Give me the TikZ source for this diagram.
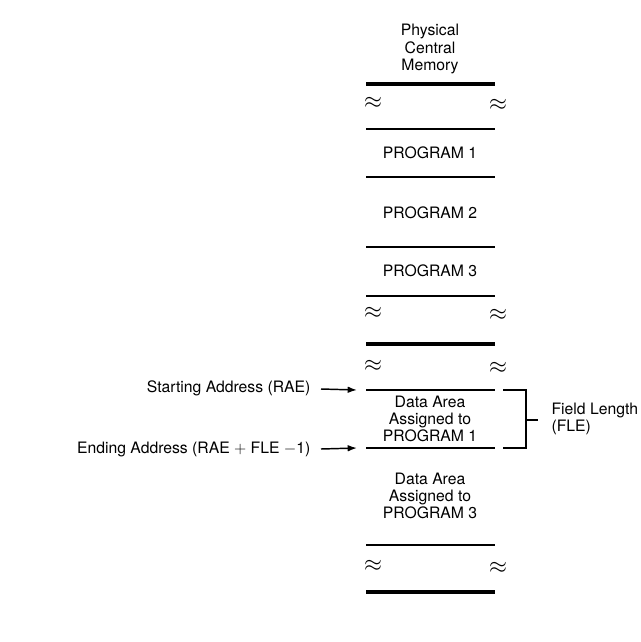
\documentclass[tikz,border=0pt]{standalone}
\usepackage{fontspec}
\setmainfont{TeX Gyre Heros}
\usepackage{tikz}
\usetikzlibrary{positioning, calc, arrows.meta}

\tikzset{
  label/.style={font=\fontsize{11.8}{12.6}\selectfont, inner sep=1pt},
  block/.style={font=\fontsize{11.8}{12.6}\selectfont, align=center, inner sep=1pt},
  brk/.style={font=\LARGE, inner sep=0pt},
  thin line/.style={line width=0.8pt},
  thick line/.style={line width=3pt},
  ptr/.style={line width=1.1pt, -{Latex[length=7pt, width=5pt]}}
}

\begin{document}
\begin{tikzpicture}[x=0.75pt, y=-0.75pt]

    % --- PAGE FRAME ---
    \useasboundingbox (0,0) rectangle (640,642);

    % --- TITLE ---
    \node[block, font=\fontsize{11.8}{12.8}\selectfont] (title) at (430,49) {Physical\\Central\\Memory};

    % --- MEMORY COLUMN: left=366, right=495 ---
    \draw[thick line] (366,84) -- (495,84);
    \node[brk] (b1l) at (373,103) {$\approx$};
    \node[brk] (b1r) at (498,105) {$\approx$};
    \draw[thin line] (366,129) -- (495,129);
    \node[label] (prog1) at (430,153) {PROGRAM 1};
    \draw[thin line] (366,177) -- (495,177);
    \node[label] (prog2) at (430,213) {PROGRAM 2};
    \draw[thin line] (366,247) -- (495,247);
    \node[label] (prog3) at (430,271) {PROGRAM 3};
    \draw[thin line] (366,296) -- (495,296);
    \node[brk] (b2l) at (373,313) {$\approx$};
    \node[brk] (b2r) at (498,315) {$\approx$};
    \draw[thick line] (366,344) -- (495,344);

    % --- DATA AREAS ---
    \node[brk] (b3l) at (373,366) {$\approx$};
    \node[brk] (b3r) at (498,368) {$\approx$};
    \coordinate (rae) at (366,390);
    \draw[thin line] (rae) -- (495,390);
    \node[block] (data1) at (430,419) {Data Area\\Assigned to\\PROGRAM 1};
    \coordinate (end) at (366,448);
    \draw[thin line] (end) -- (495,448);
    \node[block] (data3) at (430,496) {Data Area\\Assigned to\\PROGRAM 3};
    \draw[thin line] (366,545) -- (495,545);
    \node[brk] (b4l) at (373,566) {$\approx$};
    \node[brk] (b4r) at (498,568) {$\approx$};
    \draw[thick line] (366,592) -- (495,592);

    % --- ADDRESS POINTERS ---
    \node[label, anchor=east] (start) at (312,388) {Starting Address (RAE)};
    \node[label, anchor=east] (ending) at (312,449) {Ending Address (RAE $+$ FLE $-$1)};
    \draw[ptr] (start.east) ++(9,1) -- ($(rae)+(-9,0)$);
    \draw[ptr] (ending.east) ++(9,0) -- ($(end)+(-9,0)$);

    % --- FIELD LENGTH BRACKET ---
    \coordinate (bt) at (526,390);
    \coordinate (bb) at (526,448);
    \coordinate (bm) at (526,420);
    \draw[thin line] (503,390) -- (bt) -- (bb) -- (503,448);
    \node[label, align=left, anchor=west] (fle) at (550,419) {Field Length\\(FLE)};
    \draw[thin line] (bm) -- (538,420);

\end{tikzpicture}
\end{document}
